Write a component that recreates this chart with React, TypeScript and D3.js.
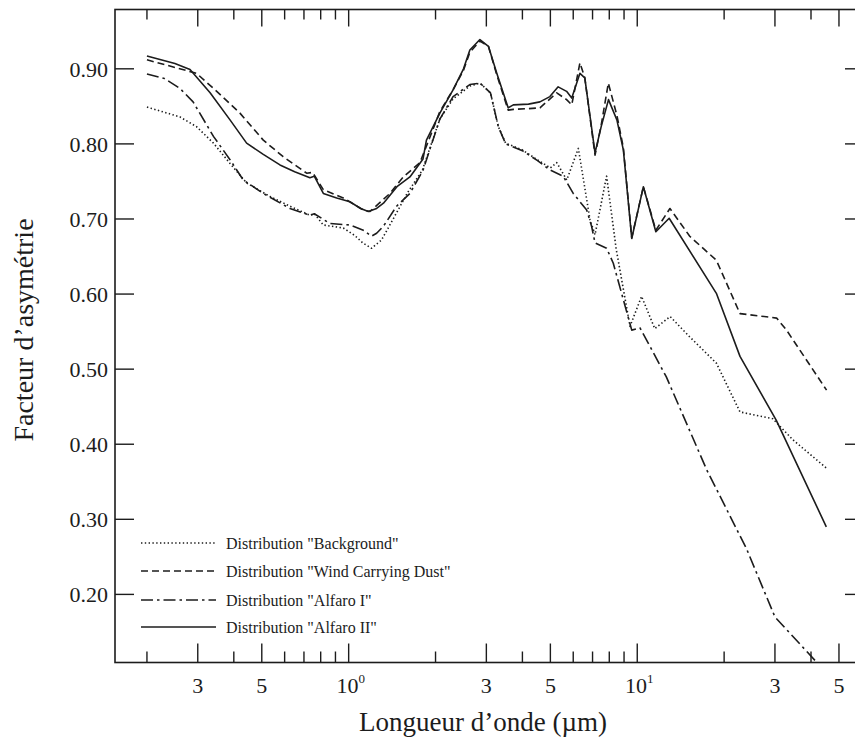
import React from "react";
import * as d3 from "d3";

// ---- Data (wavelength in µm, asymmetry factor) ----
const bgWl = [0.20, 0.26, 0.297, 0.34, 0.388, 0.443, 0.534, 0.626, 0.734, 0.76, 0.817, 0.958, 1.05, 1.12, 1.2, 1.3, 1.45, 1.6, 1.8, 2.07, 2.3, 2.63, 2.85, 3.1, 3.3, 3.5, 4.0, 4.5, 5.0, 5.26, 5.7, 6.25, 6.86, 7.14, 7.83, 8.46, 9.44, 10.35, 11.5, 13.0, 15.2, 18.8, 22.7, 29.5, 34.6, 45.3];
const bgG = [0.849, 0.836, 0.823, 0.801, 0.774, 0.748, 0.730, 0.717, 0.705, 0.707, 0.692, 0.688, 0.678, 0.668, 0.661, 0.672, 0.705, 0.735, 0.765, 0.833, 0.860, 0.877, 0.881, 0.868, 0.823, 0.801, 0.792, 0.779, 0.768, 0.775, 0.752, 0.794, 0.699, 0.679, 0.757, 0.659, 0.557, 0.597, 0.554, 0.570, 0.543, 0.508, 0.443, 0.434, 0.406, 0.368];

const wcdWl = [0.20, 0.297, 0.349, 0.42, 0.506, 0.593, 0.715, 0.75, 0.817, 0.958, 1.124, 1.185, 1.39, 1.546, 1.766, 2.07, 2.30, 2.50, 2.63, 2.85, 3.05, 3.26, 3.57, 3.72, 4.2, 4.6, 5.26, 5.69, 5.93, 6.33, 6.58, 7.14, 7.5, 7.94, 8.5, 8.95, 9.57, 10.5, 11.6, 12.98, 15.2, 18.8, 22.7, 30.4, 32.9, 45.3];
const wcdG = [0.912, 0.894, 0.870, 0.841, 0.805, 0.783, 0.761, 0.762, 0.739, 0.728, 0.712, 0.710, 0.734, 0.756, 0.775, 0.843, 0.872, 0.898, 0.922, 0.937, 0.930, 0.892, 0.845, 0.846, 0.847, 0.848, 0.868, 0.859, 0.852, 0.908, 0.888, 0.785, 0.825, 0.881, 0.838, 0.795, 0.675, 0.743, 0.685, 0.714, 0.677, 0.645, 0.574, 0.568, 0.552, 0.472];

const a1Wl = [0.20, 0.23, 0.26, 0.289, 0.34, 0.388, 0.431, 0.506, 0.626, 0.734, 0.76, 0.861, 1.01, 1.124, 1.2, 1.25, 1.318, 1.466, 1.63, 1.81, 2.07, 2.3, 2.63, 2.85, 3.1, 3.3, 3.5, 4.0, 4.5, 5.0, 5.54, 6.0, 6.68, 6.95, 7.14, 7.83, 8.26, 9.57, 10.22, 12.6, 17.4, 23.9, 30, 42];
const a1G = [0.893, 0.887, 0.874, 0.856, 0.810, 0.779, 0.752, 0.734, 0.714, 0.705, 0.707, 0.694, 0.692, 0.685, 0.677, 0.681, 0.690, 0.717, 0.734, 0.765, 0.833, 0.863, 0.879, 0.881, 0.868, 0.823, 0.800, 0.791, 0.778, 0.765, 0.757, 0.734, 0.712, 0.690, 0.668, 0.661, 0.641, 0.552, 0.555, 0.490, 0.366, 0.261, 0.170, 0.109];

const a2Wl = [0.20, 0.25, 0.282, 0.331, 0.388, 0.443, 0.506, 0.578, 0.65, 0.734, 0.76, 0.817, 0.909, 1.01, 1.10, 1.17, 1.25, 1.32, 1.47, 1.63, 1.81, 1.86, 2.07, 2.30, 2.50, 2.63, 2.85, 3.05, 3.26, 3.57, 3.72, 4.2, 4.6, 4.98, 5.32, 5.69, 5.93, 6.33, 6.58, 7.14, 7.5, 7.95, 8.5, 8.95, 9.57, 10.5, 11.6, 12.9, 18.8, 22.7, 30.3, 45.2];
const a2G = [0.917, 0.907, 0.899, 0.868, 0.832, 0.801, 0.786, 0.772, 0.763, 0.755, 0.757, 0.734, 0.728, 0.723, 0.714, 0.710, 0.714, 0.721, 0.743, 0.756, 0.780, 0.805, 0.841, 0.872, 0.900, 0.925, 0.939, 0.930, 0.894, 0.848, 0.852, 0.853, 0.856, 0.863, 0.876, 0.870, 0.861, 0.894, 0.888, 0.788, 0.823, 0.859, 0.832, 0.792, 0.674, 0.743, 0.683, 0.701, 0.601, 0.517, 0.432, 0.290];

const seriesNames = ['Distribution "Background"', 'Distribution "Wind Carrying Dust"', 'Distribution "Alfaro I"', 'Distribution "Alfaro II"'];
const seriesDash = ["1.4 2.4", "7 4", "12 4 2.5 4", ""];

const xTicks = [0.2, 0.3, 0.4, 0.5, 0.6, 0.7, 0.8, 0.9, 1, 2, 3, 4, 5, 6, 7, 8, 9, 10, 20, 30, 40, 50];
const xMajor = [0.3, 0.5, 1, 3, 5, 10, 30, 50];
const xLabels: Record<string, [string, string]> = {
  "0.3": ["3", ""], "0.5": ["5", ""], "1": ["10", "0"], "3": ["3", ""], "5": ["5", ""],
  "10": ["10", "1"], "30": ["3", ""], "50": ["5", ""],
};
const yTicks = [0.2, 0.3, 0.4, 0.5, 0.6, 0.7, 0.8, 0.9];

const W = 855, H = 743;
const L = 115, R = 858, T = 9.5, B = 662.5;
const INK = "#1c1c1c";
const FONT = "'Liberation Serif', 'Times New Roman', serif";

export default function App() {
  const x = d3.scaleLog().domain([0.155, 58.2]).range([L, R]);
  const y = d3.scaleLinear().domain([0.1093, 0.979]).range([B, T]);
  const line = d3.line<[number, number]>().x((d) => x(d[0])).y((d) => y(d[1]));

  const series = [
    bgWl.map((w, i) => [w, bgG[i]] as [number, number]),
    wcdWl.map((w, i) => [w, wcdG[i]] as [number, number]),
    a1Wl.map((w, i) => [w, a1G[i]] as [number, number]),
    a2Wl.map((w, i) => [w, a2G[i]] as [number, number]),
  ];

  const legY = [543, 571, 600, 627];

  return (
    <svg width={W} height={H} style={{ position: "absolute", left: 0, top: 0, background: "#fff" }}
      fontFamily={FONT}>
      <rect x={0} y={0} width={W} height={H} fill="#fff" />
      <defs>
        <clipPath id="plot"><rect x={L} y={T} width={R - L} height={B - T} /></clipPath>
      </defs>
      {/* frame */}
      <rect x={L} y={T} width={R - L} height={B - T} fill="none" stroke={INK} strokeWidth={1.6} />
      {/* x ticks */}
      {xTicks.map((t) => {
        const maj = xMajor.includes(t);
        const xx = x(t);
        return (
          <g key={"xt" + t}>
            <line x1={xx} x2={xx} y1={B} y2={B - (maj ? 19 : 11)} stroke={INK} strokeWidth={1.4} />
            <line x1={xx} x2={xx} y1={T} y2={T + (maj ? 17 : 10)} stroke={INK} strokeWidth={1.4} />
          </g>
        );
      })}
      {xMajor.map((t) => {
        const lab = xLabels[String(t)];
        return (
          <text key={"xl" + t} x={x(t) + (lab[1] ? 2 : 0)} y={693} fontSize={22} textAnchor="middle" fill={INK}>
            {lab[0]}
            {lab[1] ? <tspan fontSize={13} dy={-10}>{lab[1]}</tspan> : null}
          </text>
        );
      })}
      {/* y ticks */}
      {yTicks.map((t) => (
        <g key={"yt" + t}>
          <line x1={L} x2={L + 19} y1={y(t)} y2={y(t)} stroke={INK} strokeWidth={1.4} />
          <line x1={R} x2={R - 13} y1={y(t)} y2={y(t)} stroke={INK} strokeWidth={1.4} />
          <text x={108} y={y(t)} dy="0.35em" fontSize={22} textAnchor="end" fill={INK}>
            {t.toFixed(2)}
          </text>
        </g>
      ))}
      {/* axis titles */}
      <text x={483} y={731} fontSize={27} textAnchor="middle" fill={INK}>Longueur d’onde (µm)</text>
      <text transform="translate(33,330) rotate(-90)" fontSize={28} textAnchor="middle" fill={INK}>
        Facteur d’asymétrie
      </text>
      {/* curves */}
      <g clipPath="url(#plot)">
        {series.map((s, i) => (
          <path key={"s" + i} d={line(s) || ""} fill="none" stroke={INK}
            strokeWidth={1.6} strokeDasharray={seriesDash[i] || undefined} strokeLinejoin="round" />
        ))}
      </g>
      {/* legend */}
      {seriesNames.map((n, i) => (
        <g key={"lg" + i}>
          <line x1={141} x2={216} y1={legY[i]} y2={legY[i]} stroke={INK} strokeWidth={1.5}
            strokeDasharray={seriesDash[i] || undefined} />
          <text x={226} y={legY[i]} dy="0.35em" fontSize={16} fill={INK}>{n}</text>
        </g>
      ))}
    </svg>
  );
}
